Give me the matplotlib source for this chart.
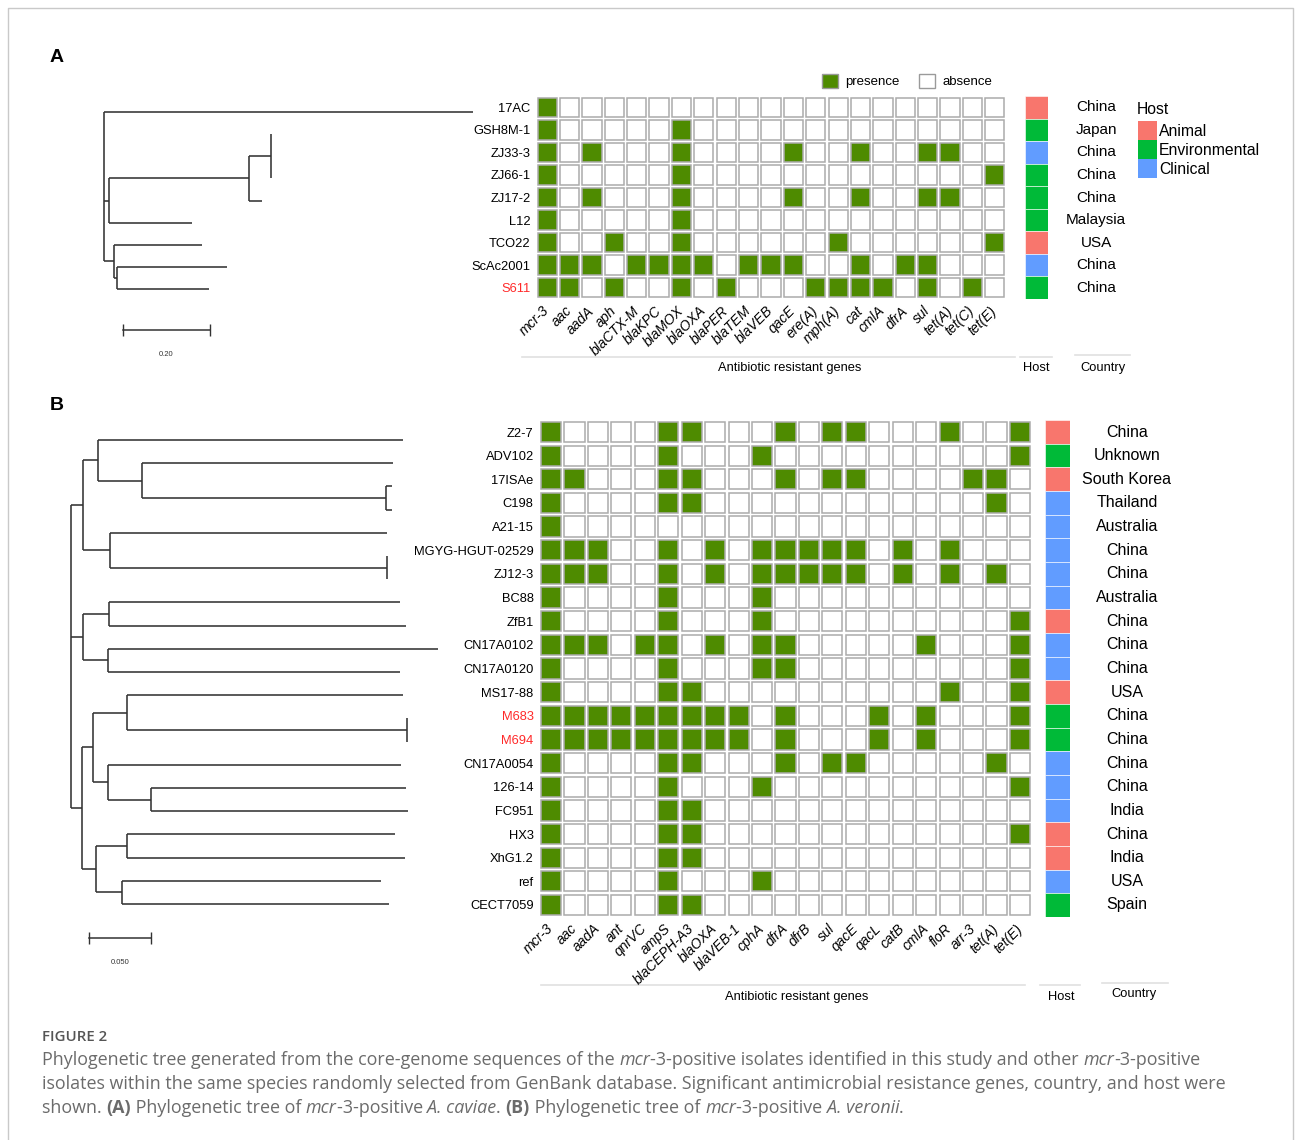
import matplotlib
matplotlib.use("Agg")
import matplotlib.pyplot as plt
from matplotlib.patches import Rectangle, Patch

W, H = 1295, 1140
plt.rcParams['font.family'] = ['Liberation Sans', 'DejaVu Sans']

# ---------------- data ----------------
genes_a = ["mcr-3", "aac", "aadA", "aph", "blaCTX-M", "blaKPC", "blaMOX", "blaOXA", "blaPER",
           "blaTEM", "blaVEB", "qacE", "ere(A)", "mph(A)", "cat", "cmlA", "dfrA", "sul",
           "tet(A)", "tet(C)", "tet(E)"]
isolates_a = ["17AC", "GSH8M-1", "ZJ33-3", "ZJ66-1", "ZJ17-2", "L12", "TCO22", "ScAc2001", "S611"]
presence_a = [
    [1, 0, 0, 0, 0, 0, 0, 0, 0, 0, 0, 0, 0, 0, 0, 0, 0, 0, 0, 0, 0],
    [1, 0, 0, 0, 0, 0, 1, 0, 0, 0, 0, 0, 0, 0, 0, 0, 0, 0, 0, 0, 0],
    [1, 0, 1, 0, 0, 0, 1, 0, 0, 0, 0, 1, 0, 0, 1, 0, 0, 1, 1, 0, 0],
    [1, 0, 0, 0, 0, 0, 1, 0, 0, 0, 0, 0, 0, 0, 0, 0, 0, 0, 0, 0, 1],
    [1, 0, 1, 0, 0, 0, 1, 0, 0, 0, 0, 1, 0, 0, 1, 0, 0, 1, 1, 0, 0],
    [1, 0, 0, 0, 0, 0, 1, 0, 0, 0, 0, 0, 0, 0, 0, 0, 0, 0, 0, 0, 0],
    [1, 0, 0, 1, 0, 0, 1, 0, 0, 0, 0, 0, 0, 1, 0, 0, 0, 0, 0, 0, 1],
    [1, 1, 1, 0, 1, 1, 1, 1, 0, 1, 1, 1, 0, 0, 1, 0, 1, 1, 0, 0, 0],
    [1, 1, 0, 1, 0, 0, 1, 0, 1, 0, 0, 0, 1, 1, 1, 1, 0, 1, 0, 1, 0],
]
host_a = ["Animal", "Environmental", "Clinical", "Environmental", "Environmental",
          "Environmental", "Animal", "Clinical", "Environmental"]
country_a = ["China", "Japan", "China", "China", "China", "Malaysia", "USA", "China", "China"]
tree_a = ("(17AC:0.848,(((GSH8M-1:0,ZJ33-3:0,ZJ66-1:0):0.051,ZJ17-2:0.030):0.322,L12:0.191):0.0115,"
          "(TCO22:0.202,(ScAc2001:0.253,S611:0.2115):0.007):0.023);")

genes_b = ["mcr-3", "aac", "aadA", "ant", "qnrVC", "ampS", "blaCEPH-A3", "blaOXA", "blaVEB-1",
           "cphA", "dfrA", "dfrB", "sul", "qacE", "qacL", "catB", "cmlA", "floR", "arr-3",
           "tet(A)", "tet(E)"]
isolates_b = ["Z2-7", "ADV102", "17ISAe", "C198", "A21-15", "MGYG-HGUT-02529", "ZJ12-3", "BC88",
              "ZfB1", "CN17A0102", "CN17A0120", "MS17-88", "M683", "M694", "CN17A0054", "126-14",
              "FC951", "HX3", "XhG1.2", "ref", "CECT7059"]
presence_b = [
    [1, 0, 0, 0, 0, 1, 1, 0, 0, 0, 1, 0, 1, 1, 0, 0, 0, 1, 0, 0, 1],
    [1, 0, 0, 0, 0, 1, 0, 0, 0, 1, 0, 0, 0, 0, 0, 0, 0, 0, 0, 0, 1],
    [1, 1, 0, 0, 0, 1, 1, 0, 0, 0, 1, 0, 1, 1, 0, 0, 0, 0, 1, 1, 0],
    [1, 0, 0, 0, 0, 1, 1, 0, 0, 0, 0, 0, 0, 0, 0, 0, 0, 0, 0, 1, 0],
    [1, 0, 0, 0, 0, 0, 0, 0, 0, 0, 0, 0, 0, 0, 0, 0, 0, 0, 0, 0, 0],
    [1, 1, 1, 0, 0, 1, 0, 1, 0, 1, 1, 1, 1, 1, 0, 1, 0, 1, 0, 0, 0],
    [1, 1, 1, 0, 0, 1, 0, 1, 0, 1, 1, 1, 1, 1, 0, 1, 0, 1, 0, 1, 0],
    [1, 0, 0, 0, 0, 1, 0, 0, 0, 1, 0, 0, 0, 0, 0, 0, 0, 0, 0, 0, 0],
    [1, 0, 0, 0, 0, 1, 0, 0, 0, 1, 0, 0, 0, 0, 0, 0, 0, 0, 0, 0, 1],
    [1, 1, 1, 0, 1, 1, 0, 1, 0, 1, 1, 0, 0, 0, 0, 0, 1, 0, 0, 0, 1],
    [1, 0, 0, 0, 0, 1, 0, 0, 0, 1, 1, 0, 0, 0, 0, 0, 0, 0, 0, 0, 1],
    [1, 0, 0, 0, 0, 1, 1, 0, 0, 0, 0, 0, 0, 0, 0, 0, 0, 1, 0, 0, 1],
    [1, 1, 1, 1, 1, 1, 1, 1, 1, 0, 1, 0, 0, 0, 1, 0, 1, 0, 0, 0, 1],
    [1, 1, 1, 1, 1, 1, 1, 1, 1, 0, 1, 0, 0, 0, 1, 0, 1, 0, 0, 0, 1],
    [1, 0, 0, 0, 0, 1, 1, 0, 0, 0, 1, 0, 1, 1, 0, 0, 0, 0, 0, 1, 0],
    [1, 0, 0, 0, 0, 1, 0, 0, 0, 1, 0, 0, 0, 0, 0, 0, 0, 0, 0, 0, 1],
    [1, 0, 0, 0, 0, 1, 1, 0, 0, 0, 0, 0, 0, 0, 0, 0, 0, 0, 0, 0, 0],
    [1, 0, 0, 0, 0, 1, 1, 0, 0, 0, 0, 0, 0, 0, 0, 0, 0, 0, 0, 0, 1],
    [1, 0, 0, 0, 0, 1, 1, 0, 0, 0, 0, 0, 0, 0, 0, 0, 0, 0, 0, 0, 0],
    [1, 0, 0, 0, 0, 1, 0, 0, 0, 1, 0, 0, 0, 0, 0, 0, 0, 0, 0, 0, 0],
    [1, 0, 0, 0, 0, 1, 1, 0, 0, 0, 0, 0, 0, 0, 0, 0, 0, 0, 0, 0, 0],
]
host_b = ["Animal", "Environmental", "Animal", "Clinical", "Clinical", "Clinical", "Clinical",
          "Clinical", "Animal", "Clinical", "Clinical", "Animal", "Environmental", "Environmental",
          "Clinical", "Clinical", "Clinical", "Animal", "Animal", "Clinical", "Environmental"]
country_b = ["China", "Unknown", "South Korea", "Thailand", "Australia", "China", "China",
             "Australia", "China", "China", "China", "USA", "China", "China", "China", "China",
             "India", "China", "India", "USA", "Spain"]
tree_b = ("(((Z2-7:0.2455,(ADV102:0.2024,(17ISAe:0.0045,C198:0.0045):0.197):0.035):0.0126,"
          "(A21-15:0.2236,(MGYG-HGUT-02529:0,ZJ12-3:0):0.2231):0.022):0.0097,"
          "((BC88:0.2347,ZfB1:0.2393):0.0212,(CN17A0102:0.2661,CN17A0120:0.2357):0.0202):0.0097,"
          "(((MS17-88:0.2226,(M683:0,M694:0):0.2258):0.0269,(CN17A0054:0.236,"
          "(126-14:0.2059,FC951:0.2077):0.0342):0.0121):0.0089,((HX3:0.2164,XhG1.2:0.2244):0.0248,"
          "(ref:0.2086,CECT7059:0.2153):0.021):0.011):0.0094);")

this_study = ["S611", "M683", "M694"]
host_levels = ["Animal", "Environmental", "Clinical"]
host_colors = {"Animal": "#F8766D", "Environmental": "#00BA38", "Clinical": "#619CFF"}
GREEN = "#4e8b00"
TREE_COLOR = "#333333"


def parse_newick(s):
    s = s.strip().rstrip(";")
    pos = 0

    def node():
        nonlocal pos
        children = []
        if s[pos] == "(":
            pos += 1
            children.append(node())
            while s[pos] == ",":
                pos += 1
                children.append(node())
            pos += 1
        start = pos
        while pos < len(s) and s[pos] not in ",():":
            pos += 1
        name = s[start:pos]
        length = 0.0
        if pos < len(s) and s[pos] == ":":
            pos += 1
            start = pos
            while pos < len(s) and s[pos] not in ",()":
                pos += 1
            length = float(s[start:pos])
        return {"name": name, "length": length, "children": children}

    return node()


def draw_tree(ax, newick, lw=1.15):
    tips = []

    def walk(node, x):
        if not node["children"]:
            tips.append(node["name"])
            return len(tips) - 1
        ys = []
        for child in node["children"]:
            xc = x + child["length"]
            yc = walk(child, xc)
            if child["length"] > 0:
                ax.plot([x, xc], [yc, yc], color=TREE_COLOR, lw=lw, solid_capstyle="butt", clip_on=False)
            ys.append(yc)
        ax.plot([x, x], [ys[0], ys[-1]], color=TREE_COLOR, lw=lw, solid_capstyle="butt", clip_on=False)
        return (ys[0] + ys[-1]) / 2

    walk(parse_newick(newick), 0.0)
    ax.set_ylim(len(tips) - 0.5, -0.5)
    ax.axis("off")


def px_axes(x0, y0, x1, y1):
    return fig.add_axes([x0 / W, 1 - y1 / H, (x1 - x0) / W, (y1 - y0) / H])


def draw_heatmap(ax, matrix, genes, isolates):
    for i, row in enumerate(matrix):
        for j, v in enumerate(row):
            ax.add_patch(Rectangle((j - 0.43, i - 0.43), 0.86, 0.86,
                                   facecolor=GREEN if v else "white", edgecolor="#ababab", lw=1.1))
    ax.set_xlim(-0.5, len(genes) - 0.5)
    ax.set_ylim(len(isolates) - 0.5, -0.5)
    ax.set_xticks(range(len(genes)))
    ax.set_xticklabels(genes, rotation=45, ha="right", va="center", rotation_mode="anchor",
                       fontstyle="italic", fontsize=10)
    ax.set_yticks(range(len(isolates)))
    ax.set_yticklabels(isolates, fontsize=9.3)
    ax.tick_params(length=0, pad=4)
    ax.tick_params(axis="x", pad=7)
    for lab in ax.get_yticklabels():
        if lab.get_text() in this_study:
            lab.set_color("#ff2a2a")
    for sp in ax.spines.values():
        sp.set_visible(False)


def draw_host(ax, hosts):
    for i, h in enumerate(hosts):
        ax.add_patch(Rectangle((0, i - 0.5), 1, 1, facecolor=host_colors[h], edgecolor="white", lw=0.4))
    ax.set_xlim(0, 1)
    ax.set_ylim(len(hosts) - 0.5, -0.5)
    ax.axis("off")


def draw_country(ax, countries, size):
    for i, c in enumerate(countries):
        ax.text(0.5, i, c, ha="center", va="center", fontsize=size)
    ax.set_xlim(0, 1)
    ax.set_ylim(len(countries) - 0.5, -0.5)
    ax.axis("off")


fig = plt.figure(figsize=(W / 100, H / 100), dpi=100)
deco = fig.add_axes([0, 0, 1, 1])
deco.set_xlim(0, W)
deco.set_ylim(H, 0)
deco.axis("off")

# outer frame
deco.plot([8, 8, 1293, 1293], [H + 5, 8, 8, H + 5], color="#c9c9c9", lw=1.0)

# ---------------- panel A ----------------
deco.text(50, 57, "A", fontsize=14, fontweight="bold", va="center")
ta = px_axes(104, 112 - 11.06, 104 + 0.9 * 435, 289 + 11.06)
draw_tree(ta, tree_a)
ta.set_xlim(0, 0.9)
ta.plot([0.0437, 0.2437], [9.85, 9.85], color=TREE_COLOR, lw=1.1, marker="|", markersize=8, clip_on=False)
ta.text(0.1437, 10.95, "0.20", ha="center", va="center", fontsize=5.5, color="#333333")

ha_ = px_axes(536, 96, 1006, 299)
draw_heatmap(ha_, presence_a, genes_a, isolates_a)
draw_host(px_axes(1025, 96, 1048, 299), host_a)
draw_country(px_axes(1066, 96, 1126, 299), country_a, 11)

fig.legend(handles=[Patch(facecolor=GREEN, edgecolor="#9a9a9a"), Patch(facecolor="white", edgecolor="#9a9a9a")],
           labels=["presence", "absence"], ncol=2, loc="center left", bbox_to_anchor=(822 / W, 1 - 81 / H),
           frameon=False, fontsize=9.5, handlelength=1.2, handleheight=1.3, handletextpad=0.55,
           columnspacing=1.5, borderpad=0, borderaxespad=0)
deco.text(1137, 109, "Host", fontsize=11.3, va="center")
fig.legend(handles=[Patch(facecolor=host_colors[h]) for h in host_levels], labels=host_levels,
           loc="upper left", bbox_to_anchor=(1138 / W, 1 - 121 / H), frameon=False,
           fontsize=11.3, handlelength=1.2, handleheight=1.5,
           handletextpad=0.15, labelspacing=0.0, borderpad=0, borderaxespad=0)

for x0, x1, yl, label, xt, yt in [(522, 1015, 357, "Antibiotic resistant genes", 790, 368),
                                  (1020, 1052, 357, "Host", 1036, 368),
                                  (1075, 1130, 355, "Country", 1103, 368)]:
    deco.plot([x0, x1], [yl, yl], color="#e0e0e0", lw=1.2)
    deco.text(xt, yt, label, ha="center", va="center", fontsize=9.3)

# ---------------- panel B ----------------
deco.text(50, 405, "B", fontsize=14, fontweight="bold", va="center")
tb = px_axes(70.7, 440 - 11.6, 70.7 + 0.3 * 1240, 904 + 11.6)
draw_tree(tb, tree_b)
tb.set_xlim(0, 0.3)
tb.plot([0.0148, 0.0648], [21.47, 21.47], color=TREE_COLOR, lw=1.1, marker="|", markersize=8, clip_on=False)
tb.text(0.0398, 22.5, "0.050", ha="center", va="center", fontsize=5.5, color="#333333")

hb = px_axes(539.3, 420.2, 1031.7, 916.8)
draw_heatmap(hb, presence_b, genes_b, isolates_b)
draw_host(px_axes(1045, 420.2, 1070, 916.8), host_b)
draw_country(px_axes(1084, 420.2, 1170, 916.8), country_b, 11.5)

for x0, x1, yl, label, xt, yt in [(541, 1025, 985, "Antibiotic resistant genes", 797, 997),
                                  (1040, 1080, 985, "Host", 1061, 997),
                                  (1102, 1168, 983, "Country", 1134, 994)]:
    deco.plot([x0, x1], [yl, yl], color="#e0e0e0", lw=1.2)
    deco.text(xt, yt, label, ha="center", va="center", fontsize=9.3)

# ---------------- caption ----------------
fig.canvas.draw()
renderer = fig.canvas.get_renderer()
CAP = "#6b6b6b"


def caption_line(x, y, parts, size=12.9):
    for text, style in parts:
        t = deco.text(x, y, text, fontsize=size, color=CAP, va="center", family="Open Sans",
                      fontstyle="italic" if style == "i" else "normal",
                      fontweight="bold" if style == "b" else "normal")
        x += t.get_window_extent(renderer).width


deco.text(42, 1037, "FIGURE 2", fontsize=10.8, color="#555555", va="center", family="Open Sans",
          fontweight="semibold")
caption_line(42, 1060, [("Phylogenetic tree generated from the core-genome sequences of the ", ""),
                        ("mcr", "i"), ("-3-positive isolates identified in this study and other ", ""),
                        ("mcr", "i"), ("-3-positive", "")])
caption_line(42, 1084, [("isolates within the same species randomly selected from GenBank database. "
                         "Significant antimicrobial resistance genes, country, and host were", "")])
caption_line(42, 1108, [("shown. ", ""), ("(A)", "b"), (" Phylogenetic tree of ", ""), ("mcr", "i"),
                        ("-3-positive ", ""), ("A. caviae", "i"), (". ", ""), ("(B)", "b"),
                        (" Phylogenetic tree of ", ""), ("mcr", "i"), ("-3-positive ", ""),
                        ("A. veronii", "i"), (".", "")])

fig.savefig("out.png", dpi=100)
